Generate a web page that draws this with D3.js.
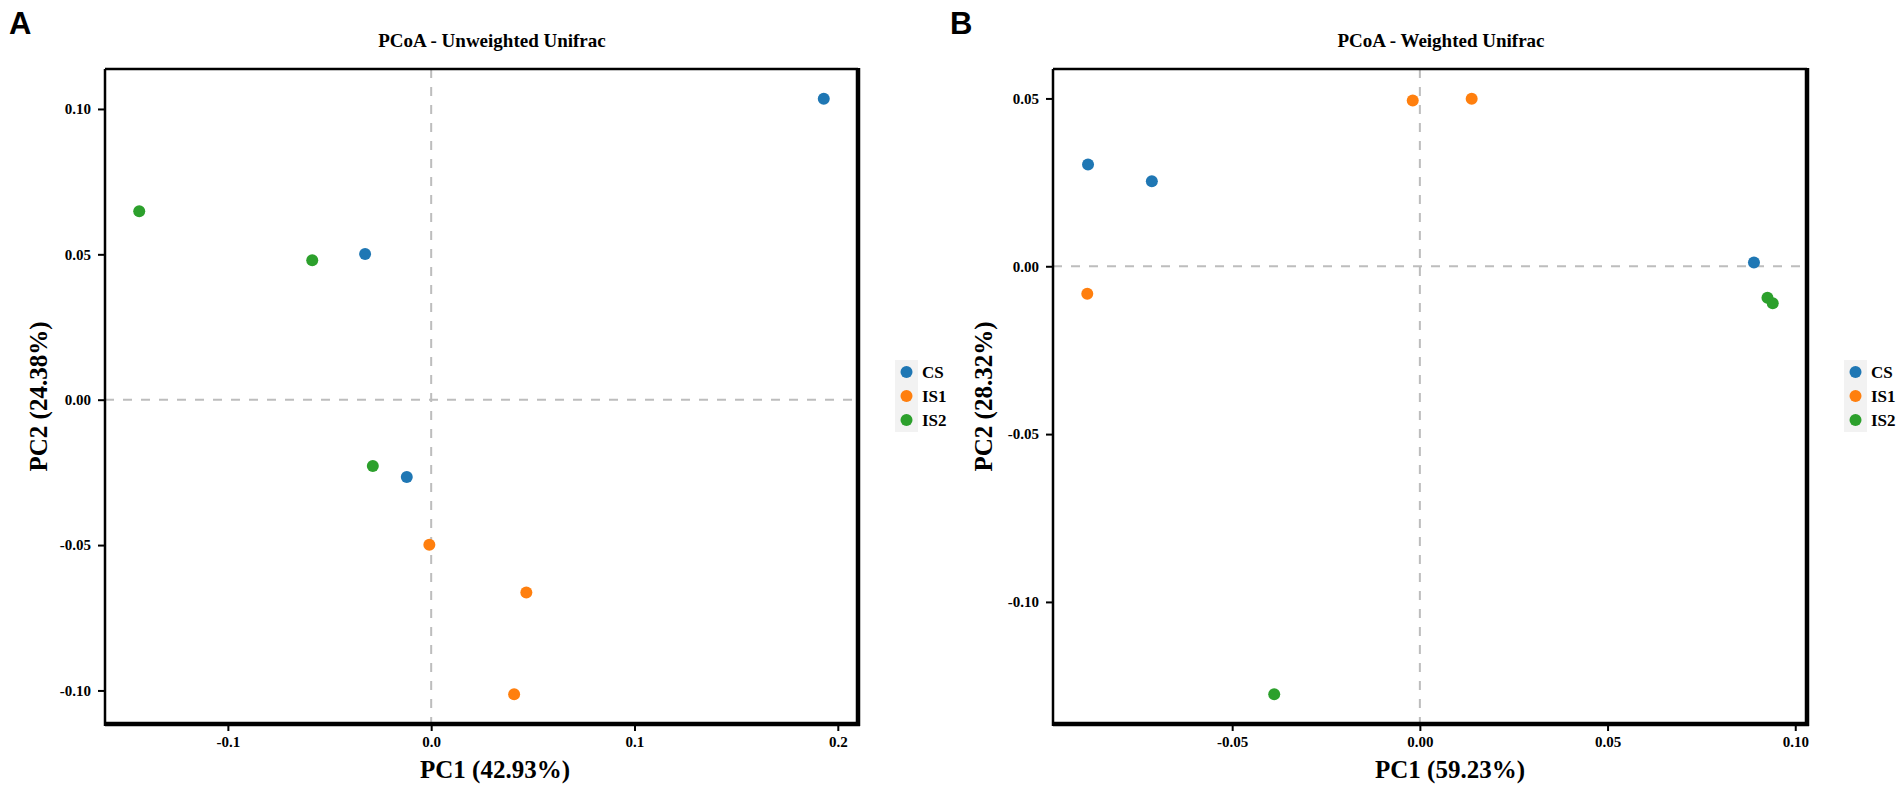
<!DOCTYPE html>
<html>
<head>
<meta charset="utf-8">
<script src="https://cdn.jsdelivr.net/npm/d3@7"></script>
<style>
  body { margin: 0; background: #fff; }
</style>
</head>
<body>
<div id="chart"></div>
<script>
// groups and colours
const groups = ["CS", "IS1", "IS2"];
const groupColors = ["#1f77b4", "#ff7f0e", "#2ca02c"];

// PCoA - Unweighted Unifrac
const unwGroup = ["CS", "CS", "CS", "IS1", "IS1", "IS1", "IS2", "IS2", "IS2"];
const unwPC1 = [0.1931, -0.0325, -0.0120, -0.0009, 0.0468, 0.0408, -0.1436, -0.0585, -0.0287];
const unwPC2 = [0.1035, 0.0501, -0.0266, -0.0499, -0.0663, -0.1013, 0.0648, 0.0480, -0.0228];
const unwTicksX = [-0.1, 0, 0.1, 0.2];
const unwTicksY = [-0.10, -0.05, 0, 0.05, 0.10];

// PCoA - Weighted Unifrac
const wGroup = ["CS", "CS", "CS", "IS1", "IS1", "IS1", "IS2", "IS2", "IS2"];
const wPC1 = [-0.0884, -0.0714, 0.0890, -0.0886, -0.0019, 0.0138, 0.0926, 0.0940, -0.0388];
const wPC2 = [0.0303, 0.0253, 0.0011, -0.0082, 0.0494, 0.0499, -0.0094, -0.0110, -0.1275];
const wTicksX = [-0.05, 0, 0.05, 0.10];
const wTicksY = [-0.10, -0.05, 0, 0.05];

const serif = "'Liberation Serif', 'Times New Roman', serif";
const sans = "'Liberation Sans', Arial, sans-serif";

const width = 1904;
const height = 787;

const svg = d3.select("#chart")
  .append("svg")
  .attr("width", width)
  .attr("height", height);

const color = d3.scaleOrdinal().domain(groups).range(groupColors);

// ggplot style 5% expansion of the data range
function expand(values) {
  const e = d3.extent(values);
  const pad = (e[1] - e[0]) * 0.05;
  return [e[0] - pad, e[1] + pad];
}

function drawPanel(cfg) {
  const g = svg.append("g");

  const x = d3.scaleLinear()
    .domain(expand(cfg.pc1))
    .range([cfg.left, cfg.right]);

  const y = d3.scaleLinear()
    .domain(expand(cfg.pc2))
    .range([cfg.bottom, cfg.top]);

  // zero lines
  g.append("line")
    .attr("x1", x(0)).attr("x2", x(0))
    .attr("y1", cfg.top).attr("y2", cfg.bottom)
    .attr("stroke", "#bdbdbd")
    .attr("stroke-width", 2)
    .attr("stroke-dasharray", "9 9");

  g.append("line")
    .attr("x1", cfg.left).attr("x2", cfg.right)
    .attr("y1", y(0)).attr("y2", y(0))
    .attr("stroke", "#bdbdbd")
    .attr("stroke-width", 2)
    .attr("stroke-dasharray", "9 9");

  // points
  g.append("g")
    .selectAll("circle")
    .data(cfg.pc1.map((v, i) => ({ pc1: v, pc2: cfg.pc2[i], grp: cfg.grp[i] })))
    .join("circle")
      .attr("cx", d => x(d.pc1))
      .attr("cy", d => y(d.pc2))
      .attr("r", 6)
      .attr("fill", d => color(d.grp));

  // axes
  const xAxis = g.append("g")
    .attr("transform", `translate(0,${cfg.bottom})`)
    .call(d3.axisBottom(x).tickValues(cfg.ticksX).tickFormat(cfg.fmtX).tickSize(7).tickPadding(5));

  const yAxis = g.append("g")
    .attr("transform", `translate(${cfg.left},0)`)
    .call(d3.axisLeft(y).tickValues(cfg.ticksY).tickFormat(cfg.fmtY).tickSize(7).tickPadding(7));

  [xAxis, yAxis].forEach(a => {
    a.select(".domain").remove();
    a.selectAll(".tick line").attr("stroke", "#000").attr("stroke-width", 2);
    a.selectAll(".tick text")
      .attr("fill", "#000")
      .attr("font-family", serif)
      .attr("font-weight", "bold")
      .attr("font-size", "15px");
  });

  // panel frame: thin left/top, heavier right/bottom
  const frame = [
    [cfg.left, cfg.top, cfg.right, cfg.top, 2.5],
    [cfg.left, cfg.top, cfg.left, cfg.bottom + 2, 2.5],
    [cfg.right, cfg.top - 1, cfg.right, cfg.bottom + 2, 4.5],
    [cfg.left, cfg.bottom, cfg.right + 2, cfg.bottom, 4.5]
  ];
  g.selectAll(".frame")
    .data(frame)
    .join("line")
      .attr("x1", d => d[0]).attr("y1", d => d[1])
      .attr("x2", d => d[2]).attr("y2", d => d[3])
      .attr("stroke", "#000")
      .attr("stroke-width", d => d[4]);

  // titles
  g.append("text")
    .attr("x", cfg.titleX)
    .attr("y", 47)
    .attr("text-anchor", "middle")
    .attr("font-family", serif)
    .attr("font-weight", "bold")
    .attr("font-size", "19px")
    .text(cfg.title);

  g.append("text")
    .attr("x", cfg.letterX)
    .attr("y", 34)
    .attr("font-family", sans)
    .attr("font-weight", "bold")
    .attr("font-size", "31px")
    .text(cfg.letter);

  g.append("text")
    .attr("x", cfg.xLabelX)
    .attr("y", 778)
    .attr("text-anchor", "middle")
    .attr("font-family", serif)
    .attr("font-weight", "bold")
    .attr("font-size", "25px")
    .text(cfg.xLabel);

  g.append("text")
    .attr("transform", `translate(${cfg.yLabelX},${(cfg.top + cfg.bottom) / 2}) rotate(-90)`)
    .attr("dy", "0.35em")
    .attr("text-anchor", "middle")
    .attr("font-family", serif)
    .attr("font-weight", "bold")
    .attr("font-size", "25px")
    .text(cfg.yLabel);

  // legend
  const lg = g.append("g")
    .attr("transform", `translate(${cfg.right + 37},360)`);

  const item = lg.selectAll("g")
    .data(groups)
    .join("g")
      .attr("transform", (d, i) => `translate(0,${i * 24})`);

  item.append("rect")
    .attr("width", 23)
    .attr("height", 24)
    .attr("fill", "#f2f2f2");

  item.append("circle")
    .attr("cx", 11.5)
    .attr("cy", 12)
    .attr("r", 6)
    .attr("fill", d => color(d));

  item.append("text")
    .attr("x", 27)
    .attr("y", 12)
    .attr("dy", "0.36em")
    .attr("font-family", serif)
    .attr("font-weight", "bold")
    .attr("font-size", "17px")
    .text(d => d);
}

drawPanel({
  pc1: unwPC1, pc2: unwPC2, grp: unwGroup,
  ticksX: unwTicksX, ticksY: unwTicksY,
  fmtX: d => d.toFixed(1), fmtY: d => d.toFixed(2),
  left: 105, right: 858, top: 69, bottom: 724,
  title: "PCoA - Unweighted Unifrac", titleX: 492,
  letter: "A", letterX: 9,
  xLabel: "PC1 (42.93%)", xLabelX: 495,
  yLabel: "PC2 (24.38%)", yLabelX: 38
});

drawPanel({
  pc1: wPC1, pc2: wPC2, grp: wGroup,
  ticksX: wTicksX, ticksY: wTicksY,
  fmtX: d => d.toFixed(2), fmtY: d => d.toFixed(2),
  left: 1053, right: 1807, top: 69, bottom: 724,
  title: "PCoA - Weighted Unifrac", titleX: 1441,
  letter: "B", letterX: 950,
  xLabel: "PC1 (59.23%)", xLabelX: 1450,
  yLabel: "PC2 (28.32%)", yLabelX: 983
});
</script>
</body>
</html>
